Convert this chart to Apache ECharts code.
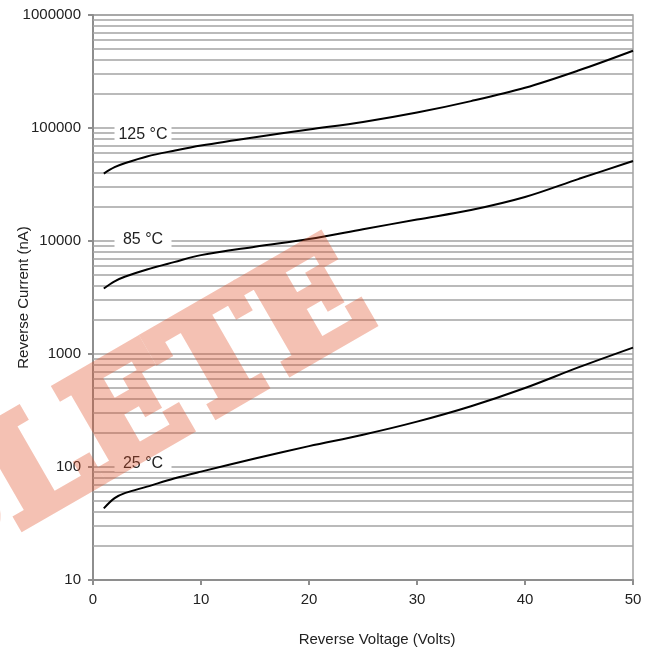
<!DOCTYPE html>
<html>
<head>
<meta charset="utf-8">
<script src="https://cdn.jsdelivr.net/npm/echarts@6/dist/echarts.min.js"></script>
<style>
html,body{margin:0;padding:0;background:#fff;}
#chart{width:657px;height:655px;}
</style>
</head>
<body>
<div id="chart"></div>
<script>
// ---- data ----
const voltage = [1, 2, 3, 5, 7.5, 10, 15, 20, 25, 30, 35, 40, 45, 50];
const i125 = [39500, 45000, 49000, 56000, 63000, 70000, 83000, 97000, 113000, 137000, 173000, 227000, 324000, 483000];
const i85  = [3800, 4400, 4850, 5600, 6500, 7500, 8900, 10400, 12700, 15500, 18800, 24500, 35500, 51000];
const i25  = [43, 53, 59, 67, 79, 91, 119, 153, 193, 252, 345, 500, 765, 1140];
const curveNames = ['125 °C', '85 °C', '25 °C'];
const labelAt = [[4.63, 86700], [4.63, 10200], [4.63, 108]];
const xTicks = [0, 10, 20, 30, 40, 50];
const yDecades = [10, 100, 1000, 10000, 100000, 1000000];
const yMinorMult = [2, 3, 4, 5, 6, 7, 8, 9];
const xTitle = 'Reverse Voltage (Volts)';
const yTitle = 'Reverse Current (nA)';
const watermark = 'OBSOLETE';

// ---- build ----
const gridColor = '#a3a3a3';
const axisColor = '#8e8e8e';
const font = "'Liberation Sans', Arial, sans-serif";

const minorVals = [];
yDecades.slice(0, -1).forEach(d => yMinorMult.forEach(m => minorVals.push(d * m)));

const curves = [i125, i85, i25];
const series = curves.map((arr, k) => ({
  type: 'line',
  name: curveNames[k],
  data: voltage.map((v, i) => [v, arr[i]]),
  smooth: 0.35,
  showSymbol: false,
  symbol: 'none',
  lineStyle: {color: '#000', width: 2},
  z: 5,
  markPoint: {
    symbol: 'circle', symbolSize: 0,
    silent: true,
    data: [{coord: labelAt[k], value: curveNames[k]}],
    label: {
      show: true, position: 'inside', formatter: curveNames[k],
      color: '#222', fontFamily: font, fontSize: 16, lineHeight: 17,
      backgroundColor: '#fff', width: 45, align: 'center', padding: [0, 6]
    }
  }
}));

series.push({
  type: 'line', data: [], silent: true, z: 1,
  markLine: {
    silent: true, symbol: 'none', animation: false,
    label: {show: false},
    lineStyle: {color: gridColor, width: 1.5, type: 'solid'},
    data: minorVals.map(v => ({yAxis: v}))
  }
});

const chart = echarts.init(document.getElementById('chart'), null, {renderer: 'canvas'});
chart.setOption({
  animation: false,
  backgroundColor: '#fff',
  grid: {left: 93, right: 24, top: 15, bottom: 75, outerBoundsMode: 'none', containLabel: false,
    show: true, borderColor: gridColor, borderWidth: 1.5, backgroundColor: 'transparent'},
  xAxis: {
    type: 'value', min: 0, max: 50, interval: 10,
    name: xTitle, nameLocation: 'middle', nameGap: 52, nameMoveOverlap: false,
    nameTextStyle: {fontFamily: font, fontSize: 15, color: '#222', padding: [0, 0, 0, 28]},
    axisLine: {show: true, onZero: false, lineStyle: {color: axisColor, width: 2}},
    axisTick: {show: true, length: 5, lineStyle: {color: axisColor, width: 2}},
    axisLabel: {fontFamily: font, fontSize: 15, color: '#222', margin: 12,
      formatter: v => xTicks.includes(v) ? String(v) : ''},
    splitLine: {show: false}
  },
  yAxis: {
    type: 'log', logBase: 10, min: yDecades[0], max: yDecades[yDecades.length - 1],
    name: yTitle, nameLocation: 'middle', nameGap: 62, nameRotate: 90, nameMoveOverlap: false,
    nameTextStyle: {fontFamily: font, fontSize: 15, color: '#222'},
    axisLine: {show: true, lineStyle: {color: axisColor, width: 2}},
    axisTick: {show: true, length: 5, lineStyle: {color: axisColor, width: 2}},
    axisLabel: {fontFamily: font, fontSize: 15, color: '#222', margin: 12,
      formatter: v => String(Math.round(v))},
    splitLine: {show: true, lineStyle: {color: gridColor, width: 1.5}},
    minorTick: {show: false}
  },
  series: series,
  graphic: [{
    type: 'text', zlevel: 1, z: 100, silent: true,
    x: -21, y: 509, rotation: 30 * Math.PI / 180,
    style: {
      text: watermark,
      font: "bold 140px 'DejaVu Serif'",
      fill: 'rgb(224, 80, 40)',
      stroke: 'rgb(224, 80, 40)', lineWidth: 10, lineJoin: 'round',
      textAlign: 'center', textVerticalAlign: 'middle'
    }
  }]
});
function fadeWatermark() {
  try {
    const layer = chart.getZr().painter.getLayer(1);
    if (layer && layer.dom) layer.dom.style.opacity = '0.35';
  } catch (e) {}
}
fadeWatermark();
chart.on('finished', fadeWatermark);
</script>
</body>
</html>
